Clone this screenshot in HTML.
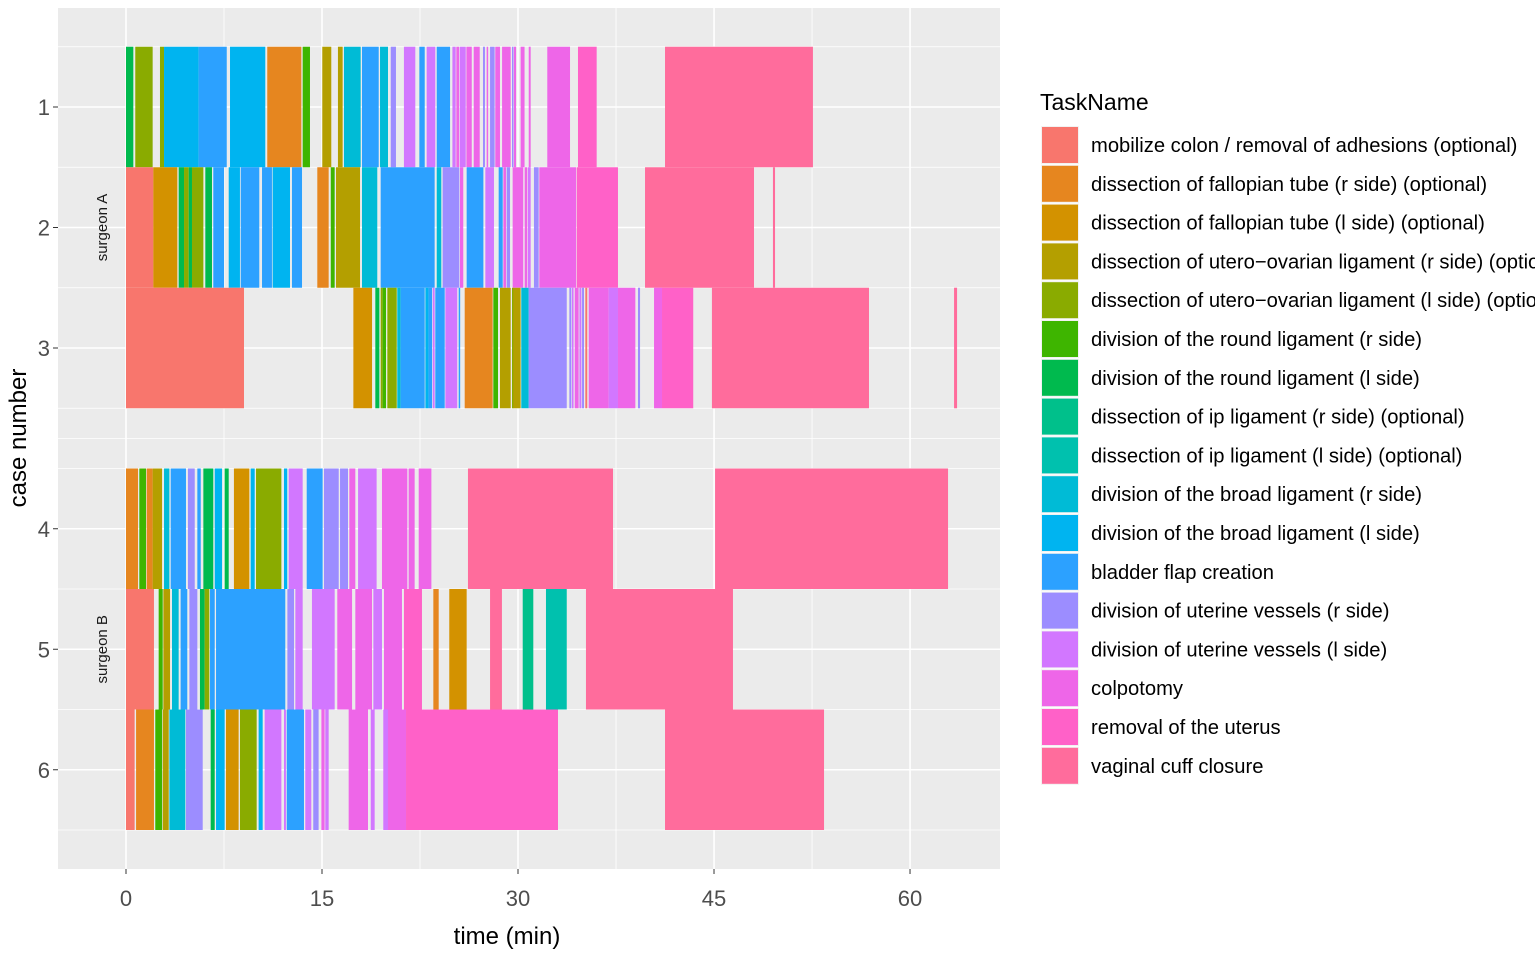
<!DOCTYPE html>
<html><head><meta charset="utf-8"><style>
body{margin:0;background:#fff;font-family:"Liberation Sans",Arial,sans-serif}
svg{display:block}
</style></head><body>
<svg id="chart" width="1535" height="956" xmlns="http://www.w3.org/2000/svg"></svg>
<script>
const taskNames = ["mobilize colon / removal of adhesions (optional)","dissection of fallopian tube (r side) (optional)","dissection of fallopian tube (l side) (optional)","dissection of utero\u2212ovarian ligament (r side) (optional)","dissection of utero\u2212ovarian ligament (l side) (optional)","division of the round ligament (r side)","division of the round ligament (l side)","dissection of ip ligament (r side) (optional)","dissection of ip ligament (l side) (optional)","division of the broad ligament (r side)","division of the broad ligament (l side)","bladder flap creation","division of uterine vessels (r side)","division of uterine vessels (l side)","colpotomy","removal of the uterus","vaginal cuff closure"];
const taskColors = ["#F8766D","#E6861F","#D39200","#B49F00","#8AAB00","#3EB500","#00BA4E","#00C08B","#00C1AE","#00BBD6","#00B4F0","#2CA1FF","#9C8DFF","#D277FF","#EE66E8","#FF61C8","#FF6C9C"];
const caseLabels = ["1","2","3","4","5","6"];
const casePositions = [1,2,3,4.5,5.5,6.5];
const xTicks = [0,15,30,45,60];
const case1Segments = [[0,0.56,6],[0.71,2.04,4],[2.6,2.91,4],[2.91,5.56,10],[5.56,7.71,11],[7.96,10.66,10],[10.81,13.42,1],[13.52,14.08,5],[15.02,15.71,3],[16.22,16.58,3],[16.68,17.96,9],[18.06,19.34,11],[19.44,20.05,9],[20.26,20.66,12],[21.27,22.14,13],[22.45,22.86,11],[23.01,23.67,13],[23.78,24.8,11],[24.98,25.23,13],[25.28,25.49,14],[25.54,26.0,13],[26.05,26.46,14],[26.61,27.07,14],[27.32,27.47,12],[27.6,27.7,14],[27.86,28.21,12],[28.26,28.62,14],[28.78,29.44,14],[29.54,29.64,12],[29.69,29.85,14],[30.2,30.5,14],[30.82,30.97,14],[32.24,33.98,14],[34.59,36.02,15],[41.25,52.57,16]];
const case2Segments = [[0,2.09,0],[2.09,3.93,2],[4.03,4.44,6],[4.44,4.8,4],[4.8,5.05,6],[5.05,5.92,4],[6.07,6.58,6],[6.68,7.5,11],[7.86,8.72,10],[8.78,10.2,11],[10.41,11.17,11],[11.22,12.55,10],[12.7,13.47,11],[14.64,15.51,1],[15.67,15.97,5],[16.07,17.91,3],[18.06,19.23,9],[19.49,23.62,11],[23.78,24.13,9],[24.23,25.51,12],[25.56,25.81,14],[26.07,27.35,11],[27.5,28.16,13],[28.52,28.83,11],[28.88,29.08,14],[29.13,29.39,12],[29.59,30.4,14],[30.51,30.71,14],[30.76,30.97,13],[31.22,31.58,12],[31.63,34.44,14],[34.49,37.65,15],[39.72,48.06,16],[49.51,49.67,16]];
const case3Segments = [[0,9.03,0],[17.4,18.83,2],[19.08,19.39,6],[19.49,19.64,4],[19.64,19.9,5],[20.0,20.72,4],[20.76,21.02,9],[21.02,22.86,11],[22.91,23.16,10],[23.16,23.42,11],[23.47,23.62,13],[23.67,24.39,11],[24.44,25.35,13],[25.46,25.56,11],[25.92,28.06,1],[28.11,28.47,5],[28.62,29.44,3],[29.54,29.64,4],[29.64,30.2,3],[30.25,30.82,9],[30.82,33.73,12],[33.93,34.08,12],[34.13,34.25,13],[34.34,34.64,14],[34.7,34.85,13],[34.9,35.05,12],[35.15,35.3,0],[35.41,36.94,14],[36.94,37.65,13],[37.65,38.98,14],[39.18,39.34,12],[40.41,41.02,14],[41.02,43.41,15],[44.84,56.86,16],[63.37,63.6,16]];
const case4Segments = [[0,0.92,1],[1.02,1.53,5],[1.58,2.04,1],[2.04,2.76,3],[2.91,3.32,9],[3.42,4.59,11],[4.74,5.26,12],[5.46,5.72,11],[5.92,6.68,6],[6.79,7.35,10],[7.55,7.86,6],[8.26,9.44,2],[9.54,9.85,10],[9.95,11.89,4],[12.09,12.34,10],[12.45,13.52,13],[13.83,15.05,11],[15.15,16.28,12],[16.38,16.99,12],[17.09,17.55,14],[17.76,19.18,13],[19.59,21.53,14],[21.63,22.09,14],[22.4,23.37,14],[26.17,37.27,16],[45.08,62.91,16]];
const case5Segments = [[0,2.14,0],[2.5,2.81,5],[2.86,3.37,3],[3.52,4.03,9],[4.18,4.69,11],[4.85,5.46,12],[5.66,6.02,6],[6.02,6.38,4],[6.43,6.79,11],[6.89,12.19,11],[12.35,12.86,12],[12.96,13.52,13],[14.23,15.97,13],[16.17,17.3,14],[17.55,18.83,14],[18.93,19.59,13],[19.74,21.12,14],[21.27,22.65,15],[23.52,23.93,1],[24.74,26.07,2],[27.86,28.77,16],[30.36,31.17,7],[32.14,33.73,8],[35.2,46.45,16]];
const case6Segments = [[0,0.66,0],[0.77,2.14,1],[2.24,2.76,5],[2.81,3.27,3],[3.32,4.54,9],[4.59,5.87,12],[6.48,6.79,6],[6.89,7.55,10],[7.65,8.62,2],[8.72,10.0,4],[10.15,10.46,10],[10.61,11.89,13],[12.09,12.24,13],[12.3,13.62,11],[13.72,14.18,13],[14.33,14.74,12],[14.95,15.2,14],[15.25,15.51,13],[17.04,18.52,14],[18.73,19.03,13],[19.69,20.05,13],[20.05,21.43,14],[21.43,33.06,15],[41.25,53.42,16]];
const allCases = [case1Segments,case2Segments,case3Segments,case4Segments,case5Segments,case6Segments];

const svg = document.getElementById('chart');
const NS = 'http://www.w3.org/2000/svg';
const PL=58, PR=1000, PT=8, PB=869;
const xs = v => 126 + v*13.067;
const ys = p => 107 + (p-1)*120.5;
function mk(tag, attrs, parent){const e=document.createElementNS(NS,tag);for(const k in attrs)e.setAttribute(k,attrs[k]);(parent||svg).appendChild(e);return e;}

const panel = mk('rect',{x:PL,y:PT,width:PR-PL,height:PB-PT,fill:'#EBEBEB'});


const grid = mk('g',{});


[7.5,22.5,37.5,52.5].forEach(v=>mk('line',{x1:xs(v),x2:xs(v),y1:PT,y2:PB,stroke:'#fff','stroke-width':0.8},grid));
xTicks.forEach(v=>mk('line',{x1:xs(v),x2:xs(v),y1:PT,y2:PB,stroke:'#fff','stroke-width':1.6},grid));
[0.5,1.5,2.5,3.5,3.75,4,5,6,7].forEach(p=>mk('line',{x1:PL,x2:PR,y1:ys(p),y2:ys(p),stroke:'#fff','stroke-width':0.8},grid));
casePositions.forEach(p=>mk('line',{x1:PL,x2:PR,y1:ys(p),y2:ys(p),stroke:'#fff','stroke-width':1.6},grid));

allCases.forEach((segs,ci)=>{
  const g = mk('g',{});
  
  
  const p = casePositions[ci];
  segs.forEach(s=>{
    const r = mk('rect',{x:xs(s[0]),y:ys(p-0.5),width:Math.max(xs(s[1])-xs(s[0]),1.5),height:120.5,fill:taskColors[s[2]]},g);
    
    
  });
});

[['surgeon A',2],['surgeon B',5.5]].forEach(([t,p])=>{
  const e = mk('text',{x:0,y:0,transform:`translate(107,${ys(p)}) rotate(-90)`,'text-anchor':'middle','font-size':15,fill:'#1a1a1a'});
  e.textContent=t;
  
  
});

casePositions.forEach((p,i)=>{
  mk('line',{x1:53,x2:58,y1:ys(p),y2:ys(p),stroke:'#333','stroke-width':1});
  const t = mk('text',{x:50,y:ys(p)+8,'text-anchor':'end','font-size':22,fill:'#4D4D4D'});
  t.textContent=caseLabels[i];
  
  
});
xTicks.forEach(v=>{
  mk('line',{x1:xs(v),x2:xs(v),y1:PB,y2:PB+5,stroke:'#333','stroke-width':1});
  const t = mk('text',{x:xs(v),y:906,'text-anchor':'middle','font-size':22,fill:'#4D4D4D'});
  t.textContent=v;
  
  
});
const xt = mk('text',{x:507,y:944,'text-anchor':'middle','font-size':24,fill:'#000'});
xt.textContent='time (min)';


const yt = mk('text',{x:0,y:0,transform:'translate(26,438) rotate(-90)','text-anchor':'middle','font-size':24,fill:'#000'});
yt.textContent='case number';



const lg = mk('g',{});


const lt = mk('text',{x:1040,y:110,'font-size':23,fill:'#000'},lg);
lt.textContent='TaskName';


taskNames.forEach((n,i)=>{
  const y0 = 126 + i*38.8;
  const e = mk('g',{},lg);
  
  
  mk('rect',{x:1041,y:y0,width:38,height:38,fill:'#F2F2F2'},e);
  mk('rect',{x:1042,y:y0+1,width:36,height:36,fill:taskColors[i]},e);
  const t = mk('text',{x:1091,y:y0+26,'font-size':20.2,fill:'#000'},e);
  t.textContent=n;
});
</script>
</body></html>
